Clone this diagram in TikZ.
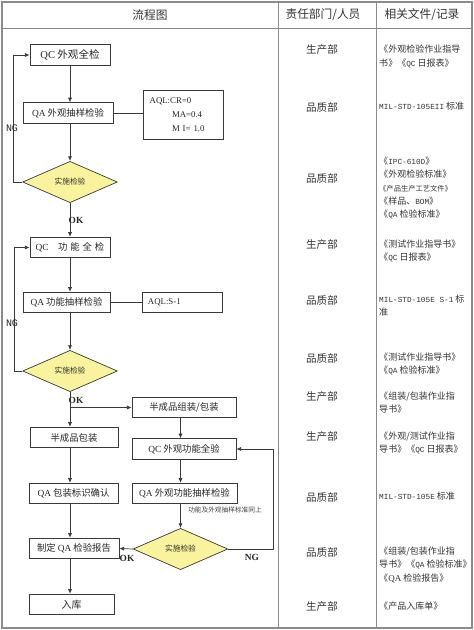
\documentclass[tikz,border=0pt]{standalone}
\usepackage{fontspec}
\usepackage{xcolor}
\setmainfont{Liberation Serif}
\setsansfont{Liberation Sans}
\setmonofont{Liberation Mono}
\newfontfamily\cjk{Noto Sans CJK SC}
\usetikzlibrary{arrows.meta, positioning, shapes.geometric}
\definecolor{Frame_Gray}{HTML}{8A8A8A}
\definecolor{Line_Dark}{HTML}{3A3A3A}
\definecolor{Check_Yellow}{HTML}{F8F39C}
\newcommand{\code}[1]{{\ttfamily\fontsize{6.6}{11.2}\selectfont #1}}
\tikzset{
  box/.style={draw=Line_Dark, line width=0.6pt, minimum height=0.62cm, inner sep=1pt,
    text=black!85, font=\cjk\fontsize{8}{10}\selectfont},
  check/.style={diamond, draw=Line_Dark, line width=0.6pt, fill=Check_Yellow, minimum width=2.84cm,
    minimum height=1.24cm, inner sep=0pt, text=black!80, font=\cjk\fontsize{6.6}{8}\selectfont},
  flow/.style={-{Latex[length=4pt, width=3.5pt]}, Line_Dark, line width=0.6pt},
  link/.style={Line_Dark, line width=0.6pt},
  head/.style={text=black!80, font=\cjk\fontsize{10}{12}\selectfont},
  dept/.style={text=black!80, font=\cjk\fontsize{9}{11}\selectfont},
  doc/.style={anchor=north west, inner sep=0pt, align=left, text=black!80,
    font=\cjk\fontsize{7.7}{11.2}\selectfont},
  tag/.style={inner sep=0pt, text=black!85, font=\fontsize{8}{9}\selectfont},
}

\begin{document}
\begin{tikzpicture}[x=0.03cm, y=-0.03cm]
  \useasboundingbox (0,0) rectangle (474,630);

  % table
  \draw[Frame_Gray, line width=1.6pt] (2,2) rectangle (472,628);
  \draw[Frame_Gray, line width=0.8pt] (2,28) -- (472,28);
  \draw[Frame_Gray, line width=0.8pt] (278,2) -- (278,628);
  \draw[Frame_Gray, line width=0.8pt] (376,2) -- (376,628);

  \node[head] (h_flow) at (150,15) {流程图};
  \node[head] (h_dept) at (323,15) {责任部门/人员};
  \node[head] (h_doc) at (422,15) {相关文件/记录};

  % appearance check
  \node[box, minimum width=2.4cm, font=\cjk\fontsize{9}{10}\selectfont] (qc_look) at (70,55) {\textrm{QC} 外观全检};
  \node[box, minimum width=2.7cm] (qa_look) at (68,113) {\textrm{QA} 外观抽样检验};
  \node[box, minimum width=2.4cm, minimum height=1.47cm, text width=2.0cm, align=left,
    font=\rmfamily\fontsize{7.5}{12}\selectfont] (aql_look) at (183,114.5)
    {AQL:CR=0\\\hspace*{0.67cm}MA=0.4\\\hspace*{0.67cm}M I= 1.0};
  \node[check] (do_look) at (70,182) {实施检验};

  % function check
  \node[box, minimum width=2.4cm] (qc_func) at (70,247.5)
    {\textrm{QC}\hspace{8pt}功\hspace{2.5pt}能\hspace{2.5pt}全\hspace{2.5pt}检};
  \node[box, minimum width=2.61cm] (qa_func) at (66.5,302.5) {\textrm{QA} 功能抽样检验};
  \node[box, minimum width=2.4cm, text width=2.04cm, align=left,
    font=\rmfamily\fontsize{7.5}{9}\selectfont] (aql_func) at (182,302.5) {AQL:S-1};
  \node[check] (do_func) at (70,371) {实施检验};

  % packing
  \node[box, minimum width=3.12cm] (semi_pack) at (184,407.5) {半成品组装/包装};
  \node[box, minimum width=2.64cm] (semi_box) at (74,437.5) {半成品包装};
  \node[box, minimum width=3.12cm] (qc_all) at (184,449) {\textrm{QC} 外观功能全验};
  \node[box, minimum width=2.67cm] (qa_mark) at (73.5,493.5) {\textrm{QA} 包装标识确认};
  \node[box, minimum width=3.15cm] (qa_all) at (184.5,493.5) {\textrm{QA} 外观功能抽样检验};
  \node[inner sep=0pt, text=black!75, font=\cjk\fontsize{5.7}{7}\selectfont] (same_note) at (225,510)
    {功能及外观抽样标准同上};
  \node[check] (do_all) at (180.5,549) {实施检验};
  \node[box, minimum width=2.7cm] (report) at (74,548.5) {制定 \textrm{QA} 检验报告};
  \node[box, minimum width=2.55cm, font=\cjk\fontsize{8.5}{10}\selectfont] (store) at (71.5,604.5) {入库};

  % connectors
  \draw[flow] (qc_look.south) -- (qa_look.north -| qc_look.south);
  \draw[link] (qa_look.east) -- (aql_look.west |- qa_look.east);
  \draw[flow] (qa_look.south -| do_look.north) -- (do_look.north);
  \draw[flow] (do_look.west) -- ++(-9,0) |- (qc_look.west);
  \draw[flow] (do_look.south) -- (qc_func.north);
  \draw[flow] (qc_func.south) -- (qa_func.north -| qc_func.south);
  \draw[link] (qa_func.east) -- (aql_func.west);
  \draw[flow] (qa_func.south -| do_func.north) -- (do_func.north);
  \draw[flow] (do_func.west) -- ++(-8,0) |- (qc_func.west);
  \draw[flow] (do_func.south) -- (semi_box.north -| do_func.south);
  \draw[flow] (do_func.south |- semi_pack.west) -- (semi_pack.west);
  \draw[flow] (semi_box.south -| do_func.south) -- (qa_mark.north -| do_func.south);
  \draw[flow] (qa_mark.south -| do_func.south) -- (report.north -| do_func.south);
  \draw[flow] (report.south -| do_func.south) -- (store.north -| do_func.south);
  \draw[flow] (semi_pack.south -| do_all.north) -- (qc_all.north -| do_all.north);
  \draw[flow] (qc_all.south -| do_all.north) -- (qa_all.north -| do_all.north);
  \draw[flow] (qa_all.south -| do_all.north) -- (do_all.north);
  \draw[flow] (do_all.east) -- ++(45,0) |- (qc_all.east);
  \draw[flow] (do_all.west) -- (report.east);

  \node[tag, font=\ttfamily\fontsize{8.5}{9}\selectfont] (ng_look) at (12,128) {NG};
  \node[tag, font=\ttfamily\fontsize{8.5}{9}\selectfont] (ng_func) at (12,323) {NG};
  \node[tag, font=\rmfamily\bfseries\fontsize{8}{9}\selectfont] (ng_all) at (252,557) {NG};
  \node[tag, font=\rmfamily\bfseries\fontsize{8}{9}\selectfont] (ok_look) at (76,220.5) {OK};
  \node[tag, font=\rmfamily\bfseries\fontsize{8}{9}\selectfont] (ok_func) at (76,400) {OK};
  \node[tag, font=\rmfamily\bfseries\fontsize{8}{9}\selectfont] (ok_all) at (127,558) {OK};

  % departments
  \node[dept] (dept_1) at (322,50) {生产部};
  \node[dept] (dept_2) at (322,107) {品质部};
  \node[dept] (dept_3) at (322,178) {品质部};
  \node[dept] (dept_4) at (322,245) {生产部};
  \node[dept] (dept_5) at (322,300) {品质部};
  \node[dept] (dept_6) at (322,358) {品质部};
  \node[dept] (dept_7) at (322,397) {生产部};
  \node[dept] (dept_8) at (322,437) {生产部};
  \node[dept] (dept_9) at (322,497) {品质部};
  \node[dept] (dept_10) at (322,552) {品质部};
  \node[dept] (dept_11) at (322,607) {生产部};

  % documents
  \node[doc] (doc_1) at (379,45) {《外观检验作业指导\\书》《\code{QC} 日报表》};
  \node[doc] (doc_2) at (379,102) {\code{MIL-STD-105EII} 标准};
  \node[doc] (doc_3) at (379,157) {《\code{IPC-610D}》\\《外观检验标准》\\
    {\fontsize{6.2}{11.2}\selectfont《产品生产工艺文件》}\\《样品、\code{BOM}》\\《\code{QA} 检验标准》};
  \node[doc] (doc_4) at (379,240) {《测试作业指导书》\\《\code{QC} 日报表》};
  \node[doc] (doc_5) at (379,295) {\code{MIL-STD-105E S-1} 标\\准};
  \node[doc] (doc_6) at (379,353) {《测试作业指导书》\\《\code{QA} 检验标准》};
  \node[doc] (doc_7) at (379,392) {《组装/包装作业指\\导书》};
  \node[doc] (doc_8) at (379,432) {《外观/测试作业指\\导书》《\code{QC} 日报表》};
  \node[doc] (doc_9) at (379,492) {\code{MIL-STD-105E} 标准};
  \node[doc] (doc_10) at (379,547) {《组装/包装作业指\\导书》《\code{QA} 检验标准》\\《\textrm{QA} 检验报告》};
  \node[doc] (doc_11) at (379,602) {《产品入库单》};
\end{tikzpicture}
\end{document}
